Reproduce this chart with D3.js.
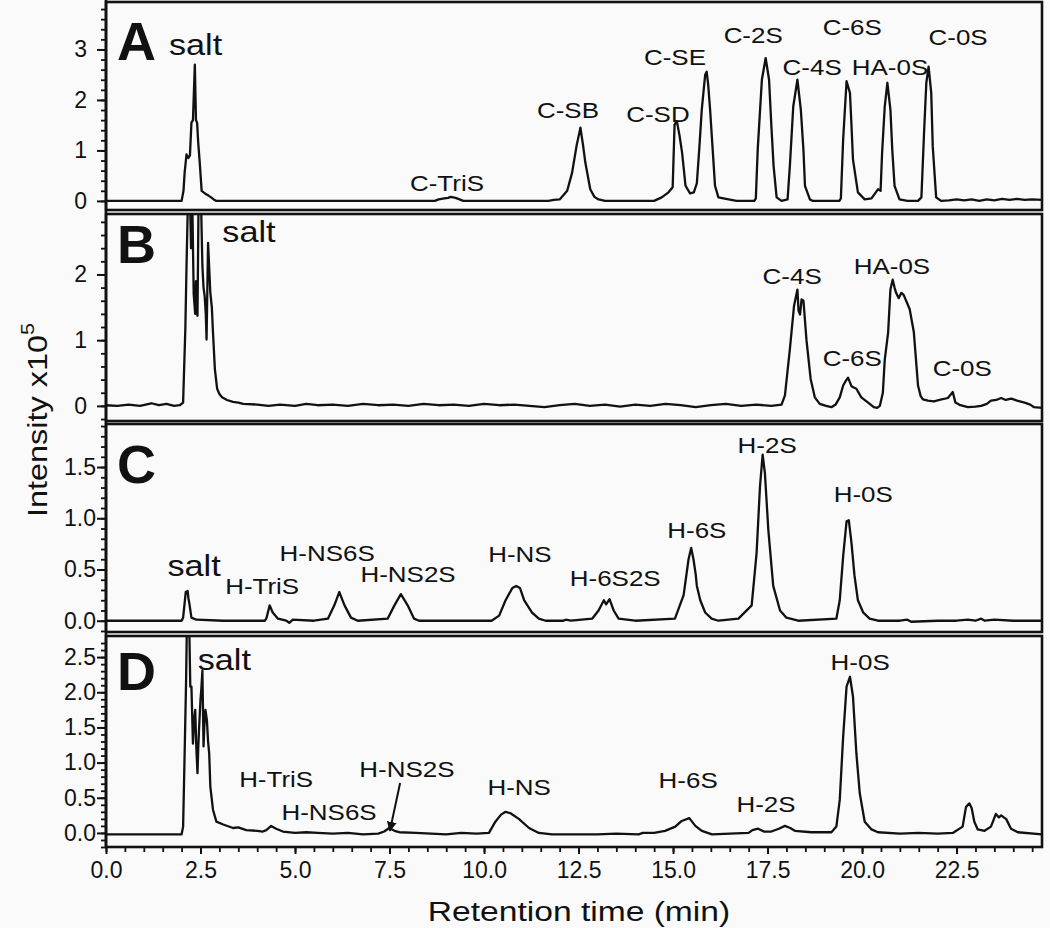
<!DOCTYPE html>
<html>
<head>
<meta charset="utf-8">
<script src="https://cdn.jsdelivr.net/npm/d3@7"></script>
<style>
  body { margin: 0; background: #fafafa; }
  text { font-family: "Liberation Sans", Arial, sans-serif; fill: #111; }
</style>
</head>
<body>
<div id="chart"></div>
<script>
// Traces: [retention time (min), intensity (x10^5)]
const traceA = [[0,0],[0.5,0],[1,0],[1.5,0],[2.0,0],[2.05,0.2],[2.08,0.56],[2.13,0.92],[2.18,0.85],[2.22,0.9],[2.26,1.55],[2.3,1.6],[2.35,2.7],[2.38,1.6],[2.41,1.55],[2.44,1.15],[2.48,0.76],[2.53,0.2],[2.6,0.16],[2.65,0.13],[2.72,0.1],[2.78,0.07],[2.85,0.03],[2.92,0],[4,0],[6,0],[8,0],[8.7,0],[8.8,0.03],[8.95,0.05],[9.05,0.06],[9.12,0.08],[9.25,0.06],[9.35,0.03],[9.45,0],[11.7,0],[11.85,0.02],[12.0,0.03],[12.2,0.2],[12.33,0.56],[12.45,1.1],[12.55,1.45],[12.62,1.1],[12.68,0.76],[12.81,0.23],[12.92,0.08],[13.03,0.03],[13.2,0],[14.5,0],[14.7,0.07],[14.88,0.17],[14.99,0.27],[15.04,1.51],[15.1,1.58],[15.17,1.3],[15.24,0.95],[15.33,0.3],[15.45,0.15],[15.55,0.17],[15.63,0.35],[15.7,1.1],[15.76,1.81],[15.85,2.5],[15.89,2.56],[15.93,2.3],[15.98,1.81],[16.05,1.0],[16.11,0.3],[16.2,0.07],[16.4,0.04],[16.68,0],[17.15,0],[17.19,0.05],[17.24,1.02],[17.35,2.4],[17.45,2.83],[17.54,2.4],[17.6,1.5],[17.66,0.69],[17.74,0.07],[17.87,0],[18.03,0.03],[18.09,0.69],[18.18,1.87],[18.29,2.4],[18.38,1.81],[18.45,1.0],[18.49,0.3],[18.62,0.03],[18.7,0],[19.4,0],[19.44,0.05],[19.5,1.22],[19.59,2.37],[19.68,2.14],[19.72,1.5],[19.76,0.82],[19.89,0.17],[20.07,0.03],[20.25,0.05],[20.42,0.23],[20.49,0.2],[20.53,0.95],[20.6,1.87],[20.67,2.34],[20.75,1.81],[20.8,1.0],[20.86,0.3],[20.99,0.03],[21.2,0],[21.48,0],[21.57,0.07],[21.64,1.35],[21.7,2.34],[21.76,2.66],[21.83,2.14],[21.87,1.08],[21.96,0.07],[22.09,0],[22.3,0.01],[22.5,0.03],[22.7,0.01],[22.9,0.03],[23.1,0],[23.3,0.03],[23.5,0.01],[23.7,0.04],[23.9,0.02],[24.1,0.04],[24.3,0.02],[24.5,0.03],[24.76,0.02]];

const traceB = [[0,0.01],[0.3,0],[0.6,0.02],[0.9,0],[1.2,0.04],[1.4,0.01],[1.6,0.03],[1.8,0],[1.95,0.01],[2.04,0.05],[2.1,1.2],[2.13,2.13],[2.17,3.2],[2.22,3.2],[2.25,2.4],[2.28,3.2],[2.32,1.7],[2.36,1.4],[2.38,1.9],[2.42,1.37],[2.45,3.2],[2.51,3.2],[2.55,2.13],[2.58,1.8],[2.61,1.67],[2.64,1.4],[2.66,1.01],[2.7,2.48],[2.73,2.1],[2.76,1.72],[2.8,1.5],[2.83,1.12],[2.88,0.56],[2.94,0.26],[3.0,0.18],[3.07,0.13],[3.2,0.09],[3.36,0.06],[3.5,0.05],[3.63,0.03],[4.0,0.02],[4.3,0],[4.6,0.02],[5.0,0],[5.3,0.03],[5.6,0.01],[6.0,0.02],[6.4,0],[6.8,0.03],[7.2,0.01],[7.6,0.02],[8.0,0],[8.4,0.03],[8.8,0.01],[9.2,0.02],[9.6,0],[10.0,0.03],[10.4,0.01],[10.8,0.02],[11.2,0],[11.6,-0.02],[12.0,0.01],[12.4,0.03],[12.8,0],[13.2,0.02],[13.6,-0.01],[14.0,0.02],[14.4,0],[14.8,0.03],[15.2,0.01],[15.6,-0.02],[16.0,0.01],[16.4,0.03],[16.8,0],[17.2,0.02],[17.6,0],[17.87,0.02],[17.96,0.16],[18.09,0.86],[18.2,1.52],[18.29,1.77],[18.32,1.45],[18.36,1.39],[18.4,1.62],[18.45,1.6],[18.53,1.0],[18.64,0.41],[18.75,0.13],[18.88,0.03],[19.05,0],[19.19,-0.02],[19.3,0.02],[19.41,0.13],[19.5,0.31],[19.57,0.38],[19.63,0.43],[19.72,0.3],[19.78,0.28],[19.85,0.26],[19.98,0.13],[20.16,0.05],[20.31,-0.02],[20.4,-0.03],[20.47,0],[20.55,0.2],[20.6,0.7],[20.69,1.12],[20.75,1.77],[20.81,1.92],[20.86,1.8],[20.9,1.72],[20.97,1.64],[21.04,1.72],[21.1,1.69],[21.18,1.58],[21.26,1.47],[21.37,1.12],[21.48,0.31],[21.55,0.15],[21.61,0.1],[21.74,0.08],[21.9,0.07],[22.05,0.09],[22.27,0.12],[22.4,0.21],[22.47,0.05],[22.6,0.01],[22.8,-0.02],[23.0,-0.01],[23.15,0],[23.3,0.03],[23.41,0.08],[23.55,0.09],[23.68,0.12],[23.8,0.09],[23.95,0.11],[24.1,0.08],[24.3,0.05],[24.45,0.02],[24.55,-0.02],[24.76,-0.03]];

const traceC = [[0,0],[1,0],[2.0,0],[2.04,0.03],[2.11,0.28],[2.16,0.29],[2.18,0.22],[2.2,0.18],[2.26,0.03],[2.39,0.01],[3.1,0],[4.2,0],[4.24,0.02],[4.33,0.15],[4.41,0.08],[4.55,0.02],[4.77,0],[4.85,-0.02],[4.94,0.01],[5.5,0],[5.87,0.02],[6.04,0.15],[6.17,0.28],[6.31,0.15],[6.48,0.03],[6.66,0],[7.45,0.02],[7.63,0.15],[7.8,0.26],[7.98,0.15],[8.15,0.02],[8.28,0],[10.2,0],[10.4,0.05],[10.57,0.2],[10.75,0.32],[10.85,0.34],[10.95,0.32],[11.06,0.2],[11.27,0.08],[11.45,0.02],[11.63,0],[12.1,0],[12.16,0.01],[12.3,0],[12.86,0.02],[13.03,0.1],[13.17,0.2],[13.23,0.16],[13.32,0.21],[13.43,0.1],[13.56,0.02],[14.0,0],[15.05,0.02],[15.28,0.25],[15.41,0.6],[15.48,0.71],[15.54,0.6],[15.6,0.45],[15.63,0.34],[15.72,0.2],[15.85,0.08],[16.02,0.02],[16.2,0],[16.73,0.02],[17.08,0.15],[17.21,0.66],[17.3,1.31],[17.37,1.62],[17.43,1.44],[17.52,0.89],[17.65,0.34],[17.83,0.1],[18.0,0.03],[18.31,0],[19.32,0.02],[19.41,0.2],[19.5,0.63],[19.59,0.97],[19.65,0.98],[19.72,0.76],[19.8,0.44],[19.89,0.2],[20.03,0.08],[20.2,0.02],[20.42,0],[21.0,0],[21.2,0.01],[21.3,-0.01],[22.0,0],[22.5,0],[22.8,0.01],[23.0,0],[23.15,0.02],[23.25,0],[23.5,0.01],[24.0,0],[24.76,0]];

const traceD = [[0,-0.02],[1,-0.02],[2.0,-0.02],[2.04,0.09],[2.08,1.13],[2.12,2.2],[2.14,3.0],[2.2,3.0],[2.23,2.08],[2.26,2.08],[2.3,1.27],[2.33,1.6],[2.36,1.75],[2.39,1.2],[2.42,0.85],[2.44,1.2],[2.46,1.46],[2.5,1.9],[2.52,2.03],[2.55,2.31],[2.58,1.23],[2.6,1.5],[2.63,1.75],[2.67,1.6],[2.7,1.3],[2.73,1.13],[2.76,0.66],[2.83,0.33],[2.92,0.16],[3.1,0.12],[3.36,0.07],[3.5,0.08],[3.71,0.04],[4.0,0.03],[4.15,0.02],[4.24,0.04],[4.37,0.1],[4.5,0.06],[4.68,0.02],[5.0,0],[5.3,0.01],[5.6,0],[6.0,-0.01],[6.4,0],[6.8,-0.02],[7.2,-0.01],[7.36,0.02],[7.49,0.07],[7.63,0.03],[7.76,0.01],[8.2,0],[8.6,-0.01],[9.0,-0.02],[9.4,0],[9.8,-0.01],[10.13,0],[10.3,0.16],[10.45,0.26],[10.57,0.3],[10.7,0.28],[10.92,0.2],[11.19,0.07],[11.45,0],[11.8,-0.02],[12.5,-0.02],[13.0,-0.02],[13.5,-0.01],[14.09,-0.02],[14.2,0],[14.5,0],[14.79,0.03],[15.06,0.09],[15.23,0.17],[15.43,0.21],[15.59,0.1],[15.76,0.03],[16.03,-0.02],[16.5,-0.01],[17.0,0],[17.1,0.04],[17.25,0.06],[17.4,0.02],[17.6,0.02],[17.8,0.06],[17.96,0.1],[18.1,0.07],[18.22,0.03],[18.66,0.01],[19.19,0.01],[19.32,0.09],[19.41,0.47],[19.5,1.37],[19.59,2.08],[19.68,2.22],[19.76,1.94],[19.85,1.13],[19.94,0.56],[20.07,0.16],[20.25,0.05],[20.42,0.01],[21.0,-0.01],[21.5,0],[22.0,-0.01],[22.4,0],[22.66,0.09],[22.75,0.37],[22.84,0.42],[22.9,0.35],[22.97,0.16],[23.06,0.05],[23.24,0.03],[23.41,0.09],[23.54,0.27],[23.62,0.22],[23.68,0.25],[23.75,0.22],[23.81,0.2],[23.94,0.06],[24.12,0.01],[24.76,-0.02]];

// Peak names with the spot (time, intensity) where each label sits
const labelsA = [["salt", 2.37, 2.89], ["C-TriS", 9.02, 0.19], ["C-SB", 12.22, 1.65], ["C-SD", 14.6, 1.57], ["C-SE", 15.05, 2.7], ["C-2S", 17.12, 3.13], ["C-4S", 18.68, 2.5], ["C-6S", 19.74, 3.29], ["HA-0S", 20.74, 2.5], ["C-0S", 22.54, 3.09]];
const labelsB = [["salt", 3.78, 2.5], ["C-4S", 18.15, 1.85], ["HA-0S", 20.79, 2.0], ["C-6S", 19.74, 0.61], ["C-0S", 22.65, 0.45]];
const labelsC = [["salt", 2.33, 0.44], ["H-TriS", 4.13, 0.26], ["H-NS6S", 5.85, 0.58], ["H-NS2S", 7.99, 0.38], ["H-NS", 10.95, 0.57], ["H-6S2S", 13.47, 0.34], ["H-6S", 15.63, 0.81], ["H-2S", 17.49, 1.64], ["H-0S", 20.03, 1.16]];
const labelsD = [["salt", 3.13, 2.32], ["H-TriS", 4.5, 0.65], ["H-NS6S", 5.9, 0.18], ["H-NS2S", 7.96, 0.8], ["H-NS", 10.93, 0.54], ["H-6S", 15.4, 0.64], ["H-2S", 17.46, 0.3], ["H-0S", 19.95, 2.32]];
const arrowD = [[7.78, 0.71], [7.51, 0.03]];

// Tick labels
const xTicks = [0, 2.5, 5, 7.5, 10, 12.5, 15, 17.5, 20, 22.5];
const yTicksA = [0, 1, 2, 3];
const yTicksB = [0, 1, 2];
const yTicksC = [0, 0.5, 1.0, 1.5];
const yTicksD = [0, 0.5, 1.0, 1.5, 2.0, 2.5];

// Layout
const W = 1050, H = 928;
const left = 106, right = 1042;
const panels = [
  { key: "A", trace: traceA, labels: labelsA, ticks: yTicksA, dom: [-0.18, 3.94], top: 2, bottom: 210, minor: 0.2, fmt: d3.format("d"), pad: 10, letterY: 60 },
  { key: "B", trace: traceB, labels: labelsB, ticks: yTicksB, dom: [-0.23, 2.92], top: 214, bottom: 421, minor: 0.2, fmt: d3.format("d"), pad: 10, letterY: 263 },
  { key: "C", trace: traceC, labels: labelsC, ticks: yTicksC, dom: [-0.11, 1.92], top: 424, bottom: 632, minor: 0.1, fmt: d3.format(".1f"), pad: 1, letterY: 483 },
  { key: "D", trace: traceD, labels: labelsD, ticks: yTicksD, dom: [-0.2, 2.8], top: 636, bottom: 847, minor: 0.1, fmt: d3.format(".1f"), pad: 1, letterY: 690 }
];

const svg = d3.select("#chart")
  .append("svg")
  .attr("width", W)
  .attr("height", H);

svg.append("rect").attr("width", W).attr("height", H).attr("fill", "#fafafa");

const defs = svg.append("defs");
defs.append("marker")
  .attr("id", "arrow")
  .attr("viewBox", "0 0 10 10")
  .attr("refX", 9).attr("refY", 5)
  .attr("markerWidth", 5).attr("markerHeight", 5)
  .attr("orient", "auto")
  .append("path")
  .attr("d", "M0,0L10,5L0,10Z")
  .attr("fill", "#111");

const x = d3.scaleLinear().domain([0, 24.76]).range([left, right]);

panels.forEach(p => {
  const y = d3.scaleLinear().domain(p.dom).range([p.bottom, p.top]);

  defs.append("clipPath").attr("id", "clip" + p.key)
    .append("rect")
    .attr("x", left).attr("y", p.top)
    .attr("width", right - left).attr("height", p.bottom - p.top);

  // minor y ticks
  const minorTicks = d3.range(Math.ceil(p.dom[0] / p.minor) * p.minor, p.dom[1], p.minor);
  svg.append("g")
    .attr("transform", `translate(${left},0)`)
    .call(d3.axisLeft(y).tickValues(minorTicks).tickSize(5).tickFormat(""))
    .call(g => g.select(".domain").remove())
    .selectAll("line").attr("stroke", "#111").attr("stroke-width", 1.8);

  // major y ticks
  svg.append("g")
    .attr("transform", `translate(${left},0)`)
    .call(d3.axisLeft(y).tickValues(p.ticks).tickSize(9).tickPadding(p.pad).tickFormat(p.fmt))
    .call(g => g.select(".domain").remove())
    .call(g => g.selectAll("line").attr("stroke", "#111").attr("stroke-width", 2))
    .call(g => g.selectAll("text").attr("font-size", 23).attr("fill", "#111")
      .attr("font-family", "Liberation Sans, Arial, sans-serif"));

  // trace
  const line = d3.line().x(d => x(d[0])).y(d => y(d[1]));
  svg.append("path")
    .datum(p.trace)
    .attr("clip-path", `url(#clip${p.key})`)
    .attr("fill", "none")
    .attr("stroke", "#111")
    .attr("stroke-width", 2.3)
    .attr("stroke-linejoin", "round")
    .attr("d", line);

  // panel frame
  svg.append("rect")
    .attr("x", left).attr("y", p.top)
    .attr("width", right - left).attr("height", p.bottom - p.top)
    .attr("fill", "none")
    .attr("stroke", "#111")
    .attr("stroke-width", 2.6);

  // panel letter
  svg.append("text")
    .attr("x", 117).attr("y", p.letterY)
    .attr("font-size", 54).attr("font-weight", "bold")
    .text(p.key);

  // peak labels
  p.labels.forEach(([name, t, v]) => {
    const big = name === "salt";
    svg.append("text")
      .attr("transform", `translate(${x(t)},${y(v)}) scale(1.18,1)`)
      .attr("text-anchor", "middle")
      .attr("font-size", big ? 29 : 22)
      .text(name);
  });

  if (p.key === "D") {
    svg.append("line")
      .attr("x1", x(arrowD[0][0])).attr("y1", y(arrowD[0][1]))
      .attr("x2", x(arrowD[1][0])).attr("y2", y(arrowD[1][1]))
      .attr("stroke", "#111").attr("stroke-width", 2)
      .attr("marker-end", "url(#arrow)");
  }
});

// left axis line across all panels
svg.append("line")
  .attr("x1", left).attr("x2", left)
  .attr("y1", 0).attr("y2", 848)
  .attr("stroke", "#111").attr("stroke-width", 2.6);

// x axis (bottom of panel D)
const xMinor = d3.range(0, 24.76, 0.5);
svg.append("g")
  .attr("transform", "translate(0,847)")
  .call(d3.axisBottom(x).tickValues(xMinor).tickSize(5).tickFormat(""))
  .call(g => g.select(".domain").remove())
  .selectAll("line").attr("stroke", "#111").attr("stroke-width", 1.8);

svg.append("g")
  .attr("transform", "translate(0,847)")
  .call(d3.axisBottom(x).tickValues(xTicks).tickSize(7).tickPadding(8).tickFormat(d3.format(".1f")))
  .call(g => g.select(".domain").remove())
  .call(g => g.selectAll("line").attr("stroke", "#111").attr("stroke-width", 2))
  .call(g => g.selectAll("text").attr("font-size", 23).attr("fill", "#111")
    .attr("font-family", "Liberation Sans, Arial, sans-serif"));

// axis titles
svg.append("text")
  .attr("transform", `translate(${(left + right) / 2 + 5},921) scale(1.2,1)`)
  .attr("text-anchor", "middle")
  .attr("font-size", 28)
  .text("Retention time (min)");

const yTitle = svg.append("text")
  .attr("transform", "translate(47,420) rotate(-90) scale(1.2,1)")
  .attr("text-anchor", "middle")
  .attr("font-size", 27);
yTitle.append("tspan").text("Intensity x10");
yTitle.append("tspan").attr("dy", -13).attr("font-size", 18).text("5");
</script>
</body>
</html>
